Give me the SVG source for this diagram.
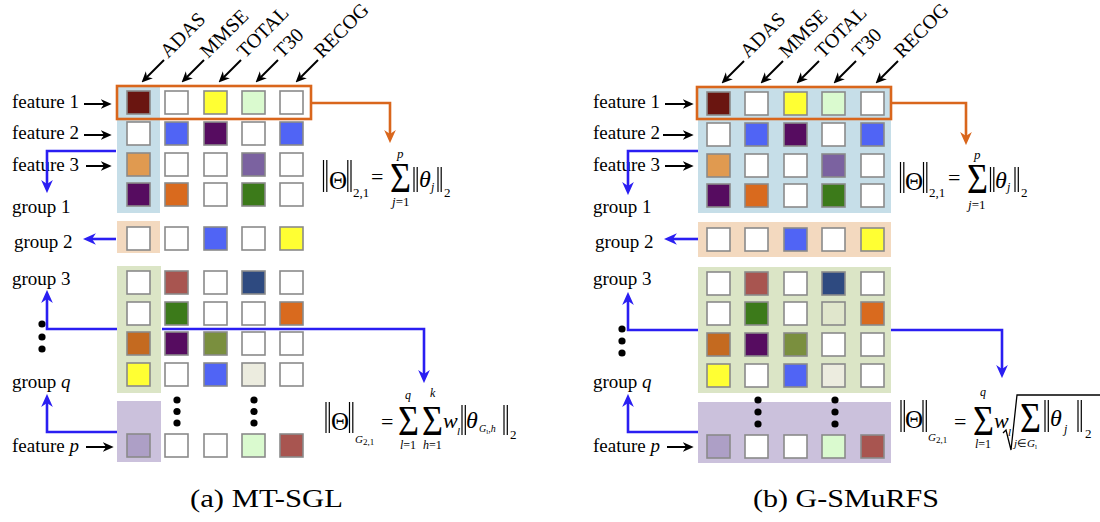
<svg xmlns="http://www.w3.org/2000/svg" width="1100" height="522" viewBox="0 0 1100 522">
<defs>
<style>
.c{stroke:#8a8a8a;stroke-width:1.6}
.t{font-family:"Liberation Serif","Times New Roman",serif;font-size:19px;fill:#000}
.h{font-family:"Liberation Serif","Times New Roman",serif;font-size:20px;fill:#000}
.m{font-family:"Liberation Serif","Times New Roman",serif;fill:#000}
.i{font-style:italic}
.blue{stroke:#2a1ef2;stroke-width:2.6;fill:none;marker-end:url(#ab)}
.org{stroke:#d9661c;stroke-width:2.6;fill:none;marker-end:url(#ao)}
.blk{stroke:#000;stroke-width:2;fill:none;marker-end:url(#ak)}
.bar{stroke:#000;stroke-width:1.2}
.cap{font-family:"Liberation Serif","Times New Roman",serif;font-size:25px;fill:#000}
</style>
<marker id="ak" viewBox="0 0 10 10" markerUnits="userSpaceOnUse" markerWidth="11" markerHeight="11" refX="3" refY="5" orient="auto"><path d="M0,0.5 L10,5 L0,9.5 L3,5 z" fill="#000"/></marker>
<marker id="ab" viewBox="0 0 10 10" markerUnits="userSpaceOnUse" markerWidth="13" markerHeight="13" refX="3" refY="5" orient="auto"><path d="M0,0.5 L10,5 L0,9.5 L3,5 z" fill="#2a1ef2"/></marker>
<marker id="ao" viewBox="0 0 10 10" markerUnits="userSpaceOnUse" markerWidth="13" markerHeight="13" refX="3" refY="5" orient="auto"><path d="M0,0.5 L10,5 L0,9.5 L3,5 z" fill="#d9661c"/></marker>
</defs>
<rect width="1100" height="522" fill="#fff"/>

<!-- ================= LEFT PANEL (a) ================= -->
<g id="a-backgrounds">
<rect x="117" y="86" width="43" height="127" fill="#c6dee8"/>
<rect x="117" y="221" width="43" height="32" fill="#f3d9bf"/>
<rect x="117" y="266" width="44" height="127" fill="#dbe5c6"/>
<rect x="117" y="401" width="44" height="61" fill="#cbc1dc"/>
</g>

<g id="a-headers">
<path class="blk" d="M164,60 L147,77"/>
<path class="blk" d="M204,60 L187,77"/>
<path class="blk" d="M241,60 L224,77"/>
<path class="blk" d="M278,60 L261,77"/>
<path class="blk" d="M318,60 L301,77"/>
<text class="h" transform="translate(168,59) rotate(-45)">ADAS</text>
<text class="h" transform="translate(208,59) rotate(-45)">MMSE</text>
<text class="h" transform="translate(245,59) rotate(-45)">TOTAL</text>
<text class="h" transform="translate(282,59) rotate(-45)">T30</text>
<text class="h" transform="translate(322,59) rotate(-45)">RECOG</text>
</g>

<g id="a-feature-labels">
<text class="t" x="12" y="108">feature 1</text>
<text class="t" x="12" y="139">feature 2</text>
<text class="t" x="12" y="171">feature 3</text>
<text class="t" x="12" y="213">group 1</text>
<text class="t" x="14" y="248">group 2</text>
<text class="t" x="12" y="285">group 3</text>
<text class="t" x="12" y="388">group <tspan class="i">q</tspan></text>
<text class="t" x="12" y="452">feature <tspan class="i">p</tspan></text>
<path class="blk" d="M84,104 H104"/>
<path class="blk" d="M84,135 H104"/>
<path class="blk" d="M86,166 H104"/>
<path class="blk" d="M86,447 H106"/>
</g>

<g id="a-group1">
<rect class="c" x="127" y="91" width="23" height="23" fill="#6a1510"/>
<rect class="c" x="165" y="91" width="23" height="23" fill="#fff"/>
<rect class="c" x="204" y="91" width="23" height="23" fill="#ffff33"/>
<rect class="c" x="242" y="91" width="23" height="23" fill="#dafacf"/>
<rect class="c" x="280" y="91" width="23" height="23" fill="#fff"/>
<rect class="c" x="127" y="122" width="23" height="23" fill="#fff"/>
<rect class="c" x="165" y="122" width="23" height="23" fill="#5064f5"/>
<rect class="c" x="204" y="122" width="23" height="23" fill="#560c60"/>
<rect class="c" x="242" y="122" width="23" height="23" fill="#fff"/>
<rect class="c" x="280" y="122" width="23" height="23" fill="#5064f5"/>
<rect class="c" x="127" y="153" width="23" height="23" fill="#e09a50"/>
<rect class="c" x="165" y="153" width="23" height="23" fill="#fff"/>
<rect class="c" x="204" y="153" width="23" height="23" fill="#fff"/>
<rect class="c" x="242" y="153" width="23" height="23" fill="#7b62a0"/>
<rect class="c" x="280" y="153" width="23" height="23" fill="#fff"/>
<rect class="c" x="127" y="183" width="23" height="23" fill="#560c60"/>
<rect class="c" x="165" y="183" width="23" height="23" fill="#d96a1e"/>
<rect class="c" x="204" y="183" width="23" height="23" fill="#fff"/>
<rect class="c" x="242" y="183" width="23" height="23" fill="#3c7a1a"/>
<rect class="c" x="280" y="183" width="23" height="23" fill="#fff"/>
</g>
<g id="a-group2">
<rect class="c" x="127" y="227" width="23" height="23" fill="#fff"/>
<rect class="c" x="165" y="227" width="23" height="23" fill="#fff"/>
<rect class="c" x="204" y="227" width="23" height="23" fill="#5064f5"/>
<rect class="c" x="242" y="227" width="23" height="23" fill="#fff"/>
<rect class="c" x="280" y="227" width="23" height="23" fill="#ffff33"/>
</g>
<g id="a-group3">
<rect class="c" x="127" y="271" width="23" height="23" fill="#fff"/>
<rect class="c" x="165" y="271" width="23" height="23" fill="#a85550"/>
<rect class="c" x="204" y="271" width="23" height="23" fill="#fff"/>
<rect class="c" x="242" y="271" width="23" height="23" fill="#2e4a80"/>
<rect class="c" x="280" y="271" width="23" height="23" fill="#fff"/>
<rect class="c" x="127" y="302" width="23" height="23" fill="#fff"/>
<rect class="c" x="165" y="302" width="23" height="23" fill="#3c7a1a"/>
<rect class="c" x="204" y="302" width="23" height="23" fill="#fff"/>
<rect class="c" x="242" y="302" width="23" height="23" fill="#fff"/>
<rect class="c" x="280" y="302" width="23" height="23" fill="#d96a1e"/>
<rect class="c" x="127" y="332" width="23" height="23" fill="#c46a20"/>
<rect class="c" x="165" y="332" width="23" height="23" fill="#560c60"/>
<rect class="c" x="204" y="332" width="23" height="23" fill="#7a8f3e"/>
<rect class="c" x="242" y="332" width="23" height="23" fill="#fff"/>
<rect class="c" x="280" y="332" width="23" height="23" fill="#fff"/>
<rect class="c" x="127" y="363" width="23" height="23" fill="#ffff33"/>
<rect class="c" x="165" y="363" width="23" height="23" fill="#fff"/>
<rect class="c" x="204" y="363" width="23" height="23" fill="#5064f5"/>
<rect class="c" x="242" y="363" width="23" height="23" fill="#ececdf"/>
<rect class="c" x="280" y="363" width="23" height="23" fill="#fff"/>
</g>
<g id="a-featurep">
<circle cx="177" cy="400" r="3.6"/>
<circle cx="177" cy="411.5" r="3.6"/>
<circle cx="177" cy="423" r="3.6"/>
<circle cx="254" cy="400" r="3.6"/>
<circle cx="254" cy="411.5" r="3.6"/>
<circle cx="254" cy="423" r="3.6"/>
<rect class="c" x="127" y="434" width="23" height="23" fill="#ad9fc6"/>
<rect class="c" x="165" y="434" width="23" height="23" fill="#fff"/>
<rect class="c" x="204" y="434" width="23" height="23" fill="#fff"/>
<rect class="c" x="242" y="434" width="23" height="23" fill="#dafacf"/>
<rect class="c" x="280" y="434" width="23" height="23" fill="#a85550"/>
</g>
<g id="a-vdots">
<circle cx="42" cy="324" r="3.6"/>
<circle cx="42" cy="337" r="3.6"/>
<circle cx="42" cy="349" r="3.6"/>
</g>

<g id="a-connectors">
<rect x="117" y="86" width="194" height="33" fill="none" stroke="#d9661c" stroke-width="2.6"/>
<path class="org" d="M311,103 H390 V134"/>
<path class="blue" d="M116,151 H47 V184"/>
<path class="blue" d="M116,239 H92"/>
<path class="blue" d="M117,329 H47 V299"/>
<path class="blue" d="M162,329 H424 V374"/>
<path class="blue" d="M117,432 H47 V403"/>
</g>

<g id="a-formula1">
<line class="bar" x1="323.5" y1="160" x2="323.5" y2="192"/>
<line class="bar" x1="326.8" y1="160" x2="326.8" y2="192"/>
<text class="m" x="329" y="189" font-size="25">Θ</text>
<line class="bar" x1="347.8" y1="160" x2="347.8" y2="192"/>
<line class="bar" x1="351" y1="160" x2="351" y2="192"/>
<text class="m" x="353" y="197" font-size="13">2,1</text>
<text class="m" x="371" y="184" font-size="22">=</text>
<text class="m" x="390" y="192" font-size="42" textLength="21" lengthAdjust="spacingAndGlyphs">Σ</text>
<text class="m i" x="397" y="158" font-size="13">p</text>
<text class="m" x="392" y="206" font-size="13"><tspan class="i">j</tspan>=1</text>
<line class="bar" x1="414" y1="167" x2="414" y2="192"/>
<line class="bar" x1="417.2" y1="167" x2="417.2" y2="192"/>
<text class="m i" x="419" y="187" font-size="24">θ</text>
<text class="m i" x="431" y="191" font-size="12">j</text>
<line class="bar" x1="438" y1="167" x2="438" y2="192"/>
<line class="bar" x1="441.2" y1="167" x2="441.2" y2="192"/>
<text class="m" x="444" y="197" font-size="13">2</text>
</g>

<g id="a-formula2">
<line class="bar" x1="326" y1="402" x2="326" y2="433"/>
<line class="bar" x1="329.3" y1="402" x2="329.3" y2="433"/>
<text class="m" x="331" y="430" font-size="25">Θ</text>
<line class="bar" x1="349.5" y1="402" x2="349.5" y2="433"/>
<line class="bar" x1="352.8" y1="402" x2="352.8" y2="433"/>
<text class="m" x="355" y="443" font-size="11"><tspan class="i">G</tspan><tspan font-size="9" dy="2">2,1</tspan></text>
<text class="m" x="381" y="429" font-size="22">=</text>
<text class="m" x="398" y="435" font-size="42" textLength="21" lengthAdjust="spacingAndGlyphs">Σ</text>
<text class="m" x="422" y="435" font-size="42" textLength="21" lengthAdjust="spacingAndGlyphs">Σ</text>
<text class="m i" x="405" y="399" font-size="12">q</text>
<text class="m i" x="430" y="397" font-size="12">k</text>
<text class="m" x="400" y="449" font-size="12"><tspan class="i">l</tspan>=1</text>
<text class="m" x="423" y="449" font-size="12"><tspan class="i">h</tspan>=1</text>
<text class="m i" x="443" y="428" font-size="22">w</text>
<text class="m i" x="457" y="435" font-size="11">l</text>
<line class="bar" x1="462" y1="405" x2="462" y2="435"/>
<line class="bar" x1="465.3" y1="405" x2="465.3" y2="435"/>
<text class="m i" x="466" y="428" font-size="24">θ</text>
<text class="m" x="479" y="432" font-size="10"><tspan class="i">G</tspan><tspan font-size="7" dy="2">l</tspan><tspan dy="-2">,</tspan><tspan class="i">h</tspan></text>
<line class="bar" x1="504" y1="405" x2="504" y2="435"/>
<line class="bar" x1="507.3" y1="405" x2="507.3" y2="435"/>
<text class="m" x="510" y="439" font-size="13">2</text>
</g>

<!-- ================= RIGHT PANEL (b) ================= -->
<g id="b-backgrounds">
<rect x="698" y="87" width="193" height="126" fill="#c6dee8"/>
<rect x="698" y="222" width="193" height="35" fill="#f3d9bf"/>
<rect x="698" y="267" width="193" height="126" fill="#dbe5c6"/>
<rect x="698" y="402" width="193" height="61" fill="#cbc1dc"/>
</g>

<g id="b-headers">
<path class="blk" d="M744,61 L727,78"/>
<path class="blk" d="M783,61 L766,78"/>
<path class="blk" d="M819,61 L802,78"/>
<path class="blk" d="M856,61 L839,78"/>
<path class="blk" d="M898,61 L881,78"/>
<text class="h" transform="translate(748,59) rotate(-45)">ADAS</text>
<text class="h" transform="translate(787,59) rotate(-45)">MMSE</text>
<text class="h" transform="translate(823,59) rotate(-45)">TOTAL</text>
<text class="h" transform="translate(860,59) rotate(-45)">T30</text>
<text class="h" transform="translate(902,59) rotate(-45)">RECOG</text>
</g>

<g id="b-feature-labels">
<text class="t" x="593" y="108">feature 1</text>
<text class="t" x="593" y="139">feature 2</text>
<text class="t" x="593" y="171">feature 3</text>
<text class="t" x="593" y="213">group 1</text>
<text class="t" x="595" y="248">group 2</text>
<text class="t" x="593" y="285">group 3</text>
<text class="t" x="593" y="388">group <tspan class="i">q</tspan></text>
<text class="t" x="593" y="452">feature <tspan class="i">p</tspan></text>
<path class="blk" d="M665,104 H686"/>
<path class="blk" d="M663,135 H686"/>
<path class="blk" d="M665,166 H686"/>
<path class="blk" d="M667,447 H686"/>
</g>

<g id="b-group1">
<rect class="c" x="707" y="92" width="23" height="23" fill="#6a1510"/>
<rect class="c" x="745" y="92" width="23" height="23" fill="#fff"/>
<rect class="c" x="784" y="92" width="23" height="23" fill="#ffff33"/>
<rect class="c" x="822" y="92" width="23" height="23" fill="#dafacf"/>
<rect class="c" x="861" y="92" width="23" height="23" fill="#fff"/>
<rect class="c" x="707" y="123" width="23" height="23" fill="#fff"/>
<rect class="c" x="745" y="123" width="23" height="23" fill="#5064f5"/>
<rect class="c" x="784" y="123" width="23" height="23" fill="#560c60"/>
<rect class="c" x="822" y="123" width="23" height="23" fill="#fff"/>
<rect class="c" x="861" y="123" width="23" height="23" fill="#5064f5"/>
<rect class="c" x="707" y="154" width="23" height="23" fill="#e09a50"/>
<rect class="c" x="745" y="154" width="23" height="23" fill="#fff"/>
<rect class="c" x="784" y="154" width="23" height="23" fill="#fff"/>
<rect class="c" x="822" y="154" width="23" height="23" fill="#7b62a0"/>
<rect class="c" x="861" y="154" width="23" height="23" fill="#fff"/>
<rect class="c" x="707" y="184" width="23" height="23" fill="#560c60"/>
<rect class="c" x="745" y="184" width="23" height="23" fill="#d96a1e"/>
<rect class="c" x="784" y="184" width="23" height="23" fill="#fff"/>
<rect class="c" x="822" y="184" width="23" height="23" fill="#3c7a1a"/>
<rect class="c" x="861" y="184" width="23" height="23" fill="#fff"/>
</g>
<g id="b-group2">
<rect class="c" x="707" y="228" width="23" height="23" fill="#fff"/>
<rect class="c" x="745" y="228" width="23" height="23" fill="#fff"/>
<rect class="c" x="784" y="228" width="23" height="23" fill="#5064f5"/>
<rect class="c" x="822" y="228" width="23" height="23" fill="#fff"/>
<rect class="c" x="861" y="228" width="23" height="23" fill="#ffff33"/>
</g>
<g id="b-group3">
<rect class="c" x="707" y="272" width="23" height="23" fill="#fff"/>
<rect class="c" x="745" y="272" width="23" height="23" fill="#a85550"/>
<rect class="c" x="784" y="272" width="23" height="23" fill="#fff"/>
<rect class="c" x="822" y="272" width="23" height="23" fill="#2e4a80"/>
<rect class="c" x="861" y="272" width="23" height="23" fill="#fff"/>
<rect class="c" x="707" y="302" width="23" height="23" fill="#fff"/>
<rect class="c" x="745" y="302" width="23" height="23" fill="#3c7a1a"/>
<rect class="c" x="784" y="302" width="23" height="23" fill="#fff"/>
<rect class="c" x="822" y="302" width="23" height="23" fill="#e0e6cc"/>
<rect class="c" x="861" y="302" width="23" height="23" fill="#d96a1e"/>
<rect class="c" x="707" y="333" width="23" height="23" fill="#c46a20"/>
<rect class="c" x="745" y="333" width="23" height="23" fill="#560c60"/>
<rect class="c" x="784" y="333" width="23" height="23" fill="#7a8f3e"/>
<rect class="c" x="822" y="333" width="23" height="23" fill="#fff"/>
<rect class="c" x="861" y="333" width="23" height="23" fill="#fff"/>
<rect class="c" x="707" y="364" width="23" height="23" fill="#ffff33"/>
<rect class="c" x="745" y="364" width="23" height="23" fill="#fff"/>
<rect class="c" x="784" y="364" width="23" height="23" fill="#5064f5"/>
<rect class="c" x="822" y="364" width="23" height="23" fill="#ececdf"/>
<rect class="c" x="861" y="364" width="23" height="23" fill="#fff"/>
</g>
<g id="b-featurep">
<circle cx="758" cy="400" r="3.6"/>
<circle cx="758" cy="412" r="3.6"/>
<circle cx="758" cy="424" r="3.6"/>
<circle cx="835" cy="400" r="3.6"/>
<circle cx="835" cy="412" r="3.6"/>
<circle cx="835" cy="424" r="3.6"/>
<rect class="c" x="707" y="435" width="23" height="23" fill="#ad9fc6"/>
<rect class="c" x="745" y="435" width="23" height="23" fill="#fff"/>
<rect class="c" x="784" y="435" width="23" height="23" fill="#fff"/>
<rect class="c" x="822" y="435" width="23" height="23" fill="#dafacf"/>
<rect class="c" x="861" y="435" width="23" height="23" fill="#a85550"/>
</g>
<g id="b-vdots">
<circle cx="622" cy="329" r="3.6"/>
<circle cx="622" cy="341" r="3.6"/>
<circle cx="622" cy="353" r="3.6"/>
</g>

<g id="b-connectors">
<rect x="697" y="87" width="194" height="32" fill="none" stroke="#d9661c" stroke-width="2.6"/>
<path class="org" d="M891,103 H966 V136"/>
<path class="blue" d="M698,151 H628 V186"/>
<path class="blue" d="M698,239 H673"/>
<path class="blue" d="M698,330 H628 V301"/>
<path class="blue" d="M891,330 H1002 V369"/>
<path class="blue" d="M698,432 H628 V403"/>
</g>

<g id="b-formula1">
<line class="bar" x1="900.5" y1="162" x2="900.5" y2="193"/>
<line class="bar" x1="903.8" y1="162" x2="903.8" y2="193"/>
<text class="m" x="905" y="190" font-size="25">Θ</text>
<line class="bar" x1="923.5" y1="162" x2="923.5" y2="193"/>
<line class="bar" x1="926.8" y1="162" x2="926.8" y2="193"/>
<text class="m" x="929" y="197" font-size="13">2,1</text>
<text class="m" x="948" y="185" font-size="22">=</text>
<text class="m" x="967" y="193" font-size="42" textLength="21" lengthAdjust="spacingAndGlyphs">Σ</text>
<text class="m i" x="974" y="159" font-size="13">p</text>
<text class="m" x="968" y="209" font-size="13"><tspan class="i">j</tspan>=1</text>
<line class="bar" x1="990.5" y1="167" x2="990.5" y2="192"/>
<line class="bar" x1="993.8" y1="167" x2="993.8" y2="192"/>
<text class="m i" x="995" y="188" font-size="24">θ</text>
<text class="m i" x="1007" y="191" font-size="12">j</text>
<line class="bar" x1="1015" y1="167" x2="1015" y2="192"/>
<line class="bar" x1="1018.3" y1="167" x2="1018.3" y2="192"/>
<text class="m" x="1021" y="197" font-size="13">2</text>
</g>

<g id="b-formula2">
<line class="bar" x1="901" y1="400" x2="901" y2="432"/>
<line class="bar" x1="904.3" y1="400" x2="904.3" y2="432"/>
<text class="m" x="905" y="428" font-size="25">Θ</text>
<line class="bar" x1="923" y1="400" x2="923" y2="432"/>
<line class="bar" x1="926.3" y1="400" x2="926.3" y2="432"/>
<text class="m" x="928" y="441" font-size="11"><tspan class="i">G</tspan><tspan font-size="9" dy="2">2,1</tspan></text>
<text class="m" x="954" y="429" font-size="22">=</text>
<text class="m" x="973" y="435" font-size="42" textLength="21" lengthAdjust="spacingAndGlyphs">Σ</text>
<text class="m i" x="980" y="396" font-size="12">q</text>
<text class="m" x="975" y="448" font-size="12"><tspan class="i">l</tspan>=1</text>
<text class="m i" x="994" y="428" font-size="22">w</text>
<text class="m i" x="1008" y="436" font-size="11">l</text>
<polyline points="1003,433 1006,430 1011,450 1017,395 1100,395" fill="none" stroke="#000" stroke-width="1.3"/>
<text class="m" x="1020" y="432" font-size="42" textLength="21" lengthAdjust="spacingAndGlyphs">Σ</text>
<text class="m" x="1014" y="447" font-size="11"><tspan class="i">j</tspan>∈<tspan class="i">G</tspan><tspan font-size="7" dy="2">l</tspan></text>
<line class="bar" x1="1045" y1="400" x2="1045" y2="432"/>
<line class="bar" x1="1048.3" y1="400" x2="1048.3" y2="432"/>
<text class="m i" x="1050" y="426" font-size="24">θ</text>
<text class="m i" x="1064" y="433" font-size="12">j</text>
<line class="bar" x1="1078" y1="400" x2="1078" y2="432"/>
<line class="bar" x1="1081.3" y1="400" x2="1081.3" y2="432"/>
<text class="m" x="1085" y="438" font-size="13">2</text>
</g>

<g id="captions">
<text class="cap" x="190" y="507" textLength="153" lengthAdjust="spacingAndGlyphs">(a) MT-SGL</text>
<text class="cap" x="753" y="507" textLength="186" lengthAdjust="spacingAndGlyphs">(b) G-SMuRFS</text>
</g>
</svg>
